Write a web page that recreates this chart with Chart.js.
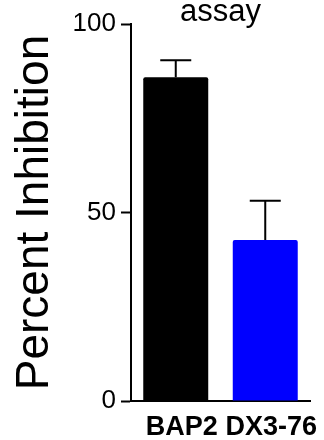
<!DOCTYPE html>
<html>
<head>
<meta charset="utf-8">
<script src="https://cdn.jsdelivr.net/npm/chart.js@4/dist/chart.umd.min.js"></script>
<style>
  html, body { margin: 0; padding: 0; background: #ffffff; }
  #wrap { width: 324px; height: 440px; }
</style>
</head>
<body>
<div id="wrap"><canvas id="c" width="324" height="440"></canvas></div>
<script>
const categories = ['BAP2', 'DX3-76'];
const values = [85.9, 42.7];
const errors = [4.5, 10.4];
const barColors = ['#000000', '#0000ff'];
const yTicks = [0, 50, 100];
const titleText = 'assay';
const yTitle = 'Percent Inhibition';

const FONT = "'Liberation Sans', Arial, Helvetica, sans-serif";

const errorBars = {
  id: 'errorBars',
  afterDatasetsDraw(chart) {
    const ctx = chart.ctx;
    const yScale = chart.scales.y;
    const meta = chart.getDatasetMeta(0);
    ctx.save();
    ctx.strokeStyle = '#000000';
    ctx.lineWidth = 2;
    meta.data.forEach((bar, i) => {
      const x = bar.x;
      const y0 = yScale.getPixelForValue(values[i]);
      const y1 = yScale.getPixelForValue(values[i] + errors[i]);
      const half = 15.5;
      ctx.beginPath();
      ctx.moveTo(x, y0);
      ctx.lineTo(x, y1);
      ctx.moveTo(x - half, y1);
      ctx.lineTo(x + half, y1);
      ctx.stroke();
    });
    ctx.restore();
  }
};

new Chart(document.getElementById('c'), {
  type: 'bar',
  data: {
    labels: categories,
    datasets: [{
      data: values,
      backgroundColor: barColors,
      borderWidth: 0,
      borderRadius: 2,
      borderSkipped: 'bottom',
      categoryPercentage: 1.0,
      barPercentage: 0.726
    }]
  },
  options: {
    responsive: false,
    animation: false,
    devicePixelRatio: 1,
    layout: { padding: { left: 0, right: 14, top: 0, bottom: 0 } },
    plugins: {
      legend: { display: false },
      tooltip: { enabled: false },
      title: {
        display: true,
        fullSize: false,
        text: titleText,
        color: '#000000',
        font: { family: FONT, size: 31, weight: 'normal', lineHeight: 0.4 },
        padding: { top: 6, bottom: 5.6 }
      }
    },
    scales: {
      x: {
        afterFit(scale) {
          scale.height = 39;
          scale.paddingLeft = 0;
          scale.paddingRight = 0;
        },
        grid: { display: false, drawTicks: false },
        border: { display: true, color: '#000000', width: 2 },
        ticks: {
          color: '#000000',
          padding: 10,
          labelOffset: 6,
          font: { family: FONT, size: 27, weight: 'bold' },
          maxRotation: 0,
          autoSkip: false
        }
      },
      y: {
        min: 0,
        max: 100,
        afterBuildTicks(scale) { scale.ticks = yTicks.map(v => ({ value: v })); },
        afterFit(scale) { scale.width = 131; },
        grid: {
          display: true,
          drawOnChartArea: false,
          drawTicks: true,
          tickLength: 10,
          tickWidth: 2,
          color: '#000000'
        },
        border: { display: true, color: '#000000', width: 2 },
        ticks: {
          color: '#000000',
          padding: 5,
          font: { family: FONT, size: 26 }
        },
        title: {
          display: true,
          text: yTitle,
          color: '#000000',
          font: { family: FONT, size: 46, weight: 'normal', lineHeight: 1.2 },
          padding: { top: 8, bottom: 0 }
        }
      }
    }
  },
  plugins: [errorBars]
});
</script>
</body>
</html>
